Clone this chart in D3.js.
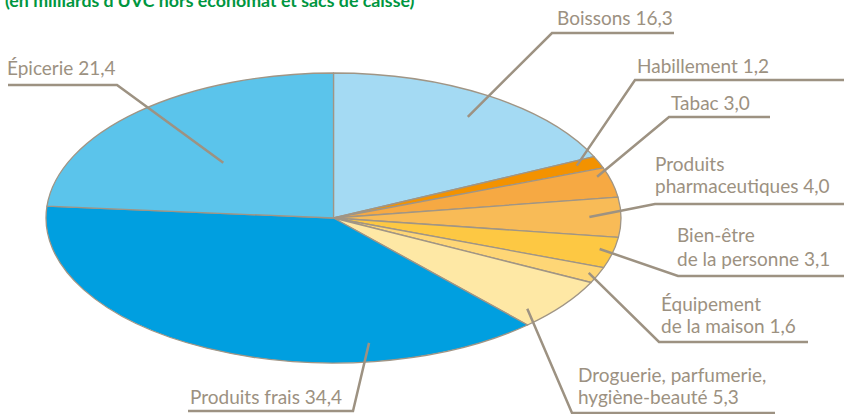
<!DOCTYPE html>
<html>
<head>
<meta charset="utf-8">
<script src="https://cdn.jsdelivr.net/npm/d3@7"></script>
<style>
  body { margin: 0; background: #fff; }
  svg { display: block; }
  .lbl { font-family: Lato, "Open Sans", sans-serif; font-size: 19px; fill: #9c9181; }
  .title { font-family: Lato, sans-serif; font-weight: 700; font-size: 17.8px; fill: #00963f; }
</style>
</head>
<body>
<script>
// data, clockwise from 12 o'clock
var categories = ['Boissons', 'Habillement', 'Tabac', 'Produits pharmaceutiques', 'Bien-être de la personne',
  'Équipement de la maison', 'Droguerie, parfumerie, hygiène-beauté', 'Produits frais', 'Épicerie']
var values = [16.3, 1.2, 3.0, 4.0, 3.1, 1.6, 5.3, 34.4, 21.4]
var valueLabels = ['16,3', '1,2', '3,0', '4,0', '3,1', '1,6', '5,3', '34,4', '21,4']
var labelLines = [
  ['Boissons'], ['Habillement'], ['Tabac'], ['Produits', 'pharmaceutiques'], ['Bien-être', 'de la personne'],
  ['Équipement', 'de la maison'], ['Droguerie, parfumerie,', 'hygiène-beauté'], ['Produits frais'], ['Épicerie']
]
var colors = ['#a4daf3', '#f39200', '#f6a943', '#f8bb57', '#fdc843', '#fed676', '#fee8a5', '#009fe0', '#5bc4eb']

// leader layout: t = position inside slice angle, r = radius fraction, elbow + underline end, text start
var leaders = [
  { t: 0.52, r: 0.84, ex: 552, ey: 33, end: 674, tx: 557, ty: [25] },
  { t: 0.4, r: 0.92, ex: 635, ey: 80, end: 844, tx: 637, ty: [73] },
  { t: 0.25, r: 0.96, ex: 669, ey: 117, end: 770, tx: 671, ty: [110] },
  { t: 0.49, r: 0.89, ex: 655, ey: 204, end: 844, tx: 655, ty: [171, 193] },
  { t: 0.43, r: 0.95, ex: 678, ey: 276, end: 844, tx: 677, ty: [242, 266] },
  { t: 0.48, r: 0.965, ex: 659, ey: 342, end: 808, tx: 661, ty: [311, 333] },
  { t: 0.78, r: 0.92, ex: 572, ey: 413, end: 775, tx: 578, ty: [382, 404] },
  { t: 0.25, r: 0.87, ex: 353, ey: 411, end: 188, tx: 190, ty: [404] },
  { t: 0.47, r: 0.54, ex: 117, ey: 85, end: 8, tx: 7, ty: [75] }
]

var width = 844, height = 414
var cx = 333.5, cy = 218, rx = 287.5, ry = 145

var svg = d3.select('body').append('svg')
  .attr('width', width)
  .attr('height', height)

// title is cropped at the top edge, as in the source picture
svg.append('text')
  .attr('class', 'title')
  .attr('x', 5)
  .attr('y', 7)
  .text('(en milliards d\u2019UVC hors économat et sacs de caisse)')

var pie = d3.pie().sort(null).value(function(d) { return d })
var arcs = pie(values)

var arc = d3.arc().innerRadius(0).outerRadius(rx)

// pie drawn as a circle then squashed into an ellipse
var pieG = svg.append('g')
  .attr('transform', 'translate(' + cx + ',' + cy + ') scale(1,' + (ry / rx) + ')')

pieG.selectAll('path')
  .data(arcs)
  .enter()
  .append('path')
  .attr('d', arc)
  .attr('fill', function(d, i) { return colors[i] })
  .attr('stroke', '#a09585')
  .attr('stroke-width', 1.3)
  .attr('vector-effect', 'non-scaling-stroke')
  .attr('stroke-linejoin', 'round')

// leader lines
var lineG = svg.append('g')
arcs.forEach(function(d, i) {
  var L = leaders[i]
  var a = d.startAngle + L.t * (d.endAngle - d.startAngle)
  var x0 = cx + Math.sin(a) * rx * L.r
  var y0 = cy - Math.cos(a) * ry * L.r
  lineG.append('polyline')
    .attr('points', [[x0, y0], [L.ex, L.ey], [L.end, L.ey]].map(function(p) { return p.join(',') }).join(' '))
    .attr('fill', 'none')
    .attr('stroke', '#9d9282')
    .attr('stroke-width', 2.5)

  var lines = labelLines[i].slice()
  lines[lines.length - 1] += ' ' + valueLabels[i]
  lines.forEach(function(s, j) {
    lineG.append('text')
      .attr('class', 'lbl')
      .attr('x', L.tx)
      .attr('y', L.ty[j])
      .text(s)
  })
})
</script>
</body>
</html>
